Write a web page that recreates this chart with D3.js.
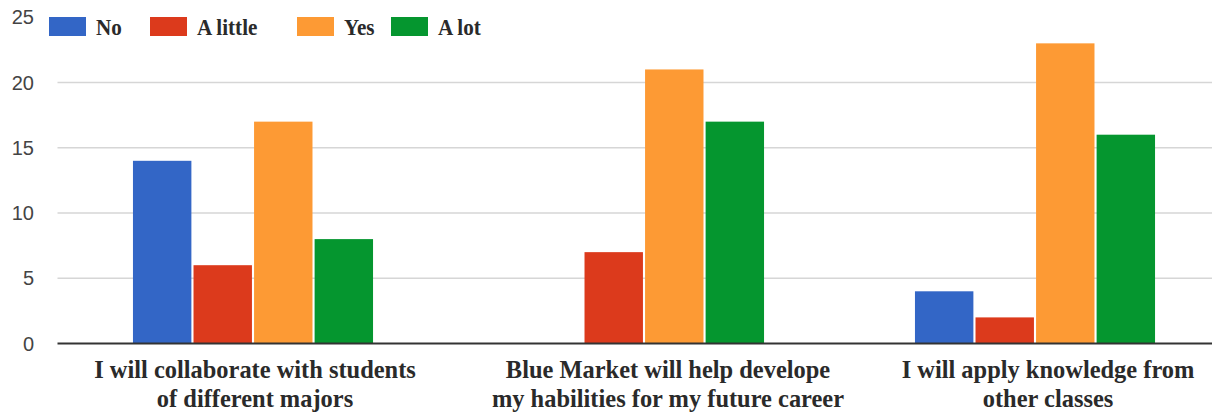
<html lang="en">
<head>
    <meta charset="UTF-8"/>
    <title>Survey</title>
    <style>
        body { margin: 0; background: #fff; }
        svg { display: block; }
        .tick-label { font-family: "Liberation Sans", Arial, sans-serif; font-size: 20px; fill: #444; }
        .serif { font-family: "Liberation Serif", "Times New Roman", serif; font-weight: bold; fill: #2a2a2a; }
    </style>
</head>
<body>
<svg width="1212" height="412"></svg>
<script src="https://d3js.org/d3.v7.min.js"></script>
<script>
    const categories = [
        ["I will collaborate with students", "of different majors"],
        ["Blue Market will help develope", "my habilities for my future career"],
        ["I will apply knowledge from", "other classes"]
    ];
    const seriesNames = ["No", "A little", "Yes", "A lot"];
    const seriesColors = ["#3366c6", "#dc3a1c", "#fd9a34", "#05962f"];
    const noValues = [14, 0, 4];
    const aLittleValues = [6, 7, 2];
    const yesValues = [17, 21, 23];
    const aLotValues = [8, 17, 16];
    const yTicks = [0, 5, 10, 15, 20, 25];

    const series = [noValues, aLittleValues, yesValues, aLotValues];

    const svg = d3.select("svg");
    const left = 57.5, right = 1230.5, bottom = 343.5;

    const y = d3.scaleLinear().domain([0, 20]).range([bottom, 82.5]);
    const x0 = d3.scaleBand().domain(d3.range(categories.length))
        .range([left, right]).paddingInner(0.386).paddingOuter(0.193);
    const x1 = d3.scaleBand().domain(d3.range(seriesNames.length))
        .range([0, x0.bandwidth()]).paddingInner(0.035);

    // gridlines (no line at the top tick)
    svg.append("g")
        .selectAll("line")
        .data(yTicks.filter(t => t > 0 && t < 25))
        .enter().append("line")
        .attr("x1", left).attr("x2", 1212)
        .attr("y1", d => y(d)).attr("y2", d => y(d))
        .attr("stroke", "#d6d6d6").attr("stroke-width", 1.5);

    svg.append("g")
        .selectAll("text")
        .data(yTicks)
        .enter().append("text")
        .attr("class", "tick-label")
        .attr("x", 34)
        .attr("y", d => y(d) + 7)
        .attr("text-anchor", "end")
        .text(d => d);

    const groups = svg.append("g")
        .selectAll("g")
        .data(categories)
        .enter().append("g")
        .attr("transform", (d, i) => `translate(${x0(i)},0)`);

    groups.selectAll("rect")
        .data((d, i) => series.map((s, j) => ({j, v: s[i]})))
        .enter().append("rect")
        .attr("x", d => x1(d.j))
        .attr("width", x1.bandwidth())
        .attr("y", d => y(d.v))
        .attr("height", d => bottom - y(d.v))
        .attr("fill", d => seriesColors[d.j]);

    // baseline
    svg.append("line")
        .attr("x1", left).attr("x2", 1212)
        .attr("y1", bottom).attr("y2", bottom)
        .attr("stroke", "#333").attr("stroke-width", 2);

    // category labels (narrow, tall serif like the original), nudged as in the source
    const labelNudge = [2, 24, 13];
    groups.each(function (d, i) {
        d3.select(this).selectAll("text.cat")
            .data(d)
            .enter().append("text")
            .attr("class", "serif cat")
            .attr("transform", (t, k) => `translate(${x0.bandwidth() / 2 + labelNudge[i]},${378 + k * 29}) scale(0.94,1)`)
            .attr("text-anchor", "middle")
            .style("font-size", "26px")
            .text(t => t);
    });

    // legend
    const legendX = [49, 150, 297, 391];
    const legend = svg.append("g")
        .selectAll("g")
        .data(seriesNames)
        .enter().append("g")
        .attr("transform", (d, i) => `translate(${legendX[i]},17)`);
    legend.append("rect")
        .attr("width", 37).attr("height", 19)
        .attr("fill", (d, i) => seriesColors[i]);
    legend.append("text")
        .attr("class", "serif")
        .attr("transform", "translate(47,18) scale(0.88,1)")
        .style("font-size", "24px")
        .text(d => d);
</script>
</body>
</html>
